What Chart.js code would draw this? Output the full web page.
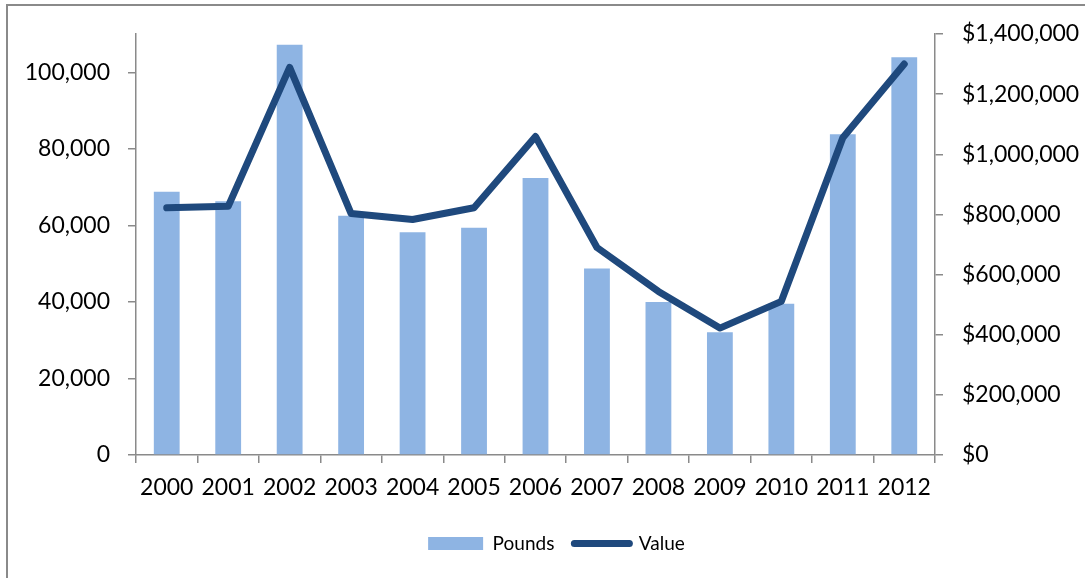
<!DOCTYPE html>
<html>
<head>
<meta charset="utf-8">
<script src="https://cdn.jsdelivr.net/npm/chart.js@4/dist/chart.umd.min.js"></script>
<style>
  html, body { margin: 0; padding: 0; background: #fff; }
  #frame { position: absolute; left: 6px; top: 4px; width: 1077px; height: 600px;
           border-top: 2px solid #8a8a8a; border-left: 2px solid #8a8a8a; }
  #wrap { position: absolute; left: 0; top: 0; width: 1088px; height: 578px; }
</style>
</head>
<body>
<div id="frame"></div>
<div id="wrap"><canvas id="c" width="1088" height="578"></canvas></div>
<script>
const years = ['2000','2001','2002','2003','2004','2005','2006','2007','2008','2009','2010','2011','2012'];
const pounds = [68800, 66300, 107200, 62500, 58200, 59400, 72400, 48700, 40000, 32100, 39500, 83800, 103900];
const value = [822000, 827000, 1289000, 803000, 783000, 822000, 1059000, 690000, 544000, 422000, 511000, 1055000, 1300000];
const poundsTicks = [0, 20000, 40000, 60000, 80000, 100000];
const valueTicks = [0, 200000, 400000, 600000, 800000, 1000000, 1200000, 1400000];

const FONT = 'Lato, "Open Sans", sans-serif';
const AXIS = '#8a8a8a';
const BAR = '#8EB4E3';
const LINE = '#1F497D';

new Chart(document.getElementById('c'), {
  data: {
    labels: years,
    datasets: [
      { type: 'bar', label: 'Pounds', data: pounds, yAxisID: 'y', backgroundColor: BAR,
        categoryPercentage: 1, barPercentage: 0.42, order: 1 },
      { type: 'line', label: 'Value', data: value, yAxisID: 'y1', borderColor: LINE,
        backgroundColor: LINE, borderWidth: 7, pointRadius: 0, pointHoverRadius: 0,
        tension: 0, borderCapStyle: 'round', borderJoinStyle: 'round', order: 0 }
    ]
  },
  options: {
    responsive: false,
    animation: false,
    layout: { padding: { left: 25, right: 0, top: 34, bottom: 15 } },
    plugins: {
      tooltip: { enabled: false },
      legend: {
        position: 'bottom',
        labels: {
          usePointStyle: true,
          pointStyleWidth: 55,
          boxHeight: 13,
          padding: 20,
          color: '#000',
          font: { family: FONT, size: 19 },
          generateLabels: () => [
            { text: 'Pounds', fillStyle: BAR, strokeStyle: BAR, lineWidth: 0, pointStyle: 'rect', datasetIndex: 0, fontColor: '#000' },
            { text: 'Value', fillStyle: LINE, strokeStyle: LINE, lineWidth: 7, lineCap: 'round', pointStyle: 'line', datasetIndex: 1, fontColor: '#000' }
          ]
        }
      }
    },
    scales: {
      x: {
        type: 'category',
        offset: true,
        grid: { offset: true, drawOnChartArea: false, drawTicks: true, tickLength: 8, color: AXIS, lineWidth: 1.5 },
        border: { color: AXIS, width: 1.5 },
        ticks: { color: '#000', font: { family: FONT, size: 23 }, padding: 11, maxRotation: 0, autoSkip: false },
        afterFit: (s) => { s.height = 59; }
      },
      y: {
        position: 'left',
        min: 0, max: 110000,
        grid: { drawOnChartArea: false, drawTicks: true, tickLength: 8, color: AXIS, lineWidth: 1.5 },
        border: { color: AXIS, width: 1.5 },
        afterBuildTicks: (s) => { s.ticks = poundsTicks.map(v => ({ value: v })); },
        ticks: { color: '#000', font: { family: FONT, size: 23 }, padding: 18,
                 callback: (v) => Number(v).toLocaleString('en-US') },
        afterFit: (s) => { s.width = 111; }
      },
      y1: {
        position: 'right',
        min: 0, max: 1400000,
        grid: { drawOnChartArea: false, drawTicks: true, tickLength: 8, color: AXIS, lineWidth: 1.5 },
        border: { color: AXIS, width: 1.5 },
        afterBuildTicks: (s) => { s.ticks = valueTicks.map(v => ({ value: v })); },
        ticks: { color: '#000', font: { family: FONT, size: 23 }, padding: 19,
                 callback: (v) => '$' + Number(v).toLocaleString('en-US') },
        afterFit: (s) => { s.width = 153; }
      }
    }
  }
});
</script>
</body>
</html>
